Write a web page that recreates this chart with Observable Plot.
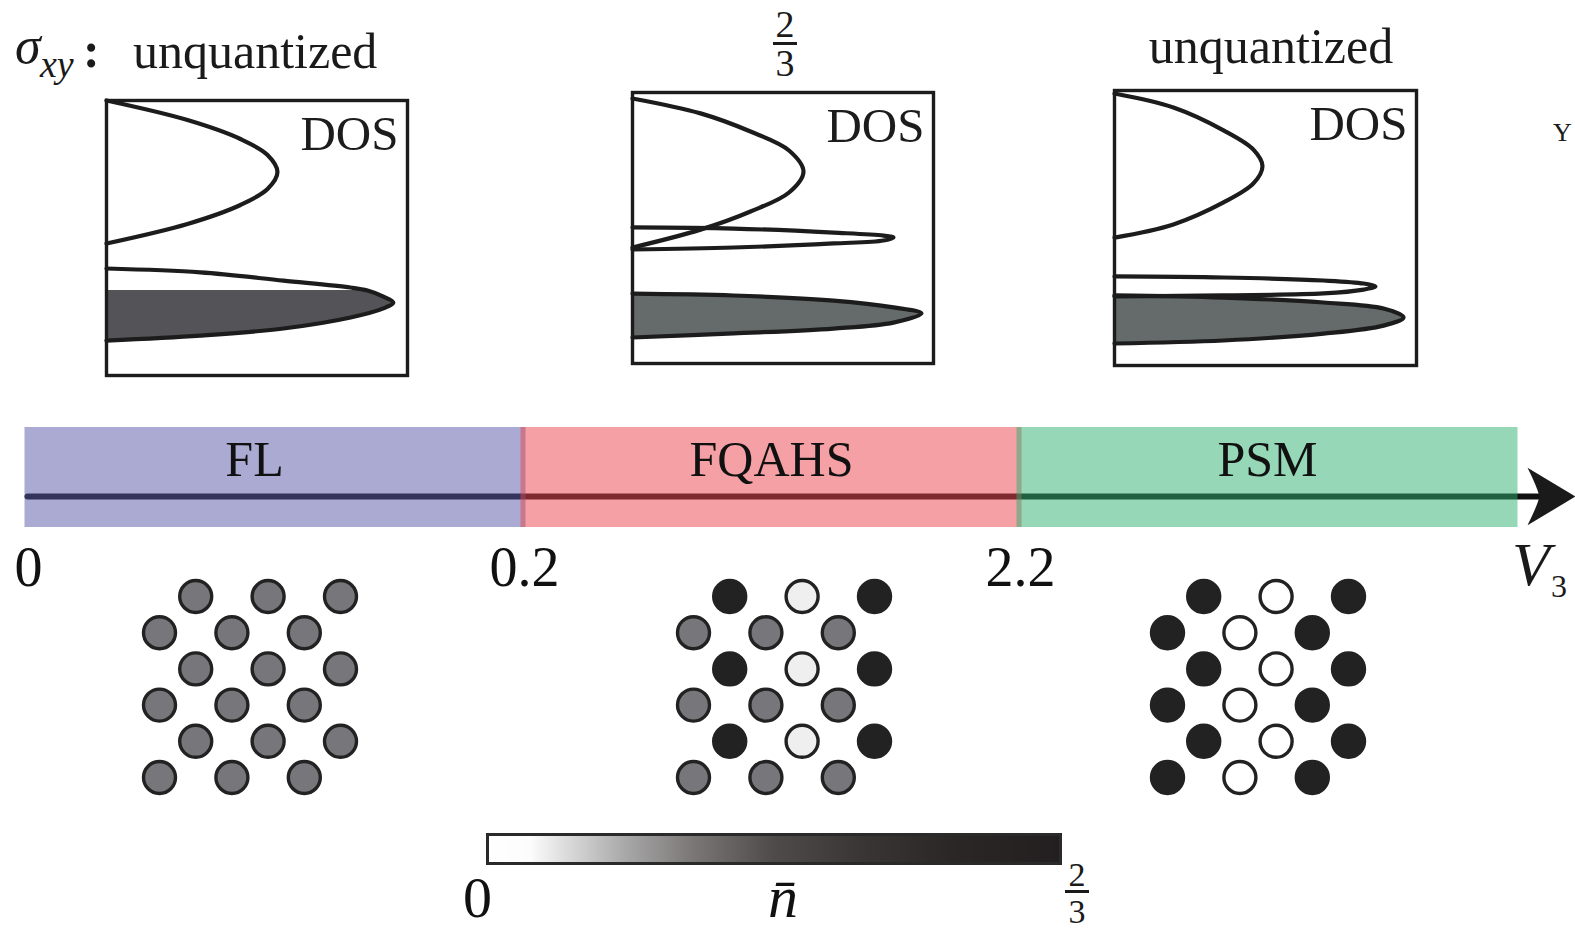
<!DOCTYPE html>
<html>
<head>
<meta charset="utf-8">
<script src="https://cdn.jsdelivr.net/npm/d3@7"></script>
<script src="https://cdn.jsdelivr.net/npm/@observablehq/plot@0.6"></script>
<style>
  html, body { margin: 0; padding: 0; background: #fff; }
  #fig { position: relative; width: 1575px; height: 934px; overflow: hidden; background: #fff;
         font-family: "Liberation Serif", "Times New Roman", serif; color: #1a1a1a; }
  #fig .lbl { position: absolute; white-space: nowrap; line-height: 1; }
  #fig svg { position: absolute; overflow: visible; background: transparent; }
</style>
</head>
<body>
<div id="fig"></div>
<script>
// ---------------- data ----------------
const phases = ["FL", "FQAHS", "PSM"];
const phaseStart = [0, 1, 2];          // schematic position along the V3 axis
const phaseEnd = [1, 2, 3];
const boundaryLabels = ["0", "0.2", "2.2"];
const phaseColors = ["#5555a5", "#e9414b", "#2daf6f"];
const sigmaXY = ["unquantized", "2/3", "unquantized"];

// DOS insets: [energy E (0 = bottom, 1 = top), DOS (0..1)]
const dosFL_upper = [[0.48,0],[0.551,0.269],[0.62,0.445],[0.678,0.535],[0.74,0.568],[0.802,0.535],[0.86,0.445],[0.929,0.269],[1.0,0]];
const dosFL_lower = [[0.127,0],[0.145,0.312],[0.171,0.588],[0.211,0.811],[0.244,0.92],[0.265,0.953],[0.287,0.92],[0.309,0.867],[0.32,0.811],[0.345,0.588],[0.375,0.312],[0.389,0]];
const dosFQ_upper = [[0.428,0],[0.494,0.226],[0.561,0.392],[0.631,0.52],[0.708,0.568],[0.786,0.52],[0.856,0.392],[0.923,0.226],[0.978,0]];
const dosFQ_middle = [[0.421,0],[0.428,0.336],[0.443,0.668],[0.454,0.834],[0.465,0.867],[0.472,0.834],[0.483,0.668],[0.498,0.336],[0.502,0]];
const dosFQ_lower = [[0.096,0],[0.111,0.336],[0.129,0.668],[0.151,0.867],[0.185,0.96],[0.207,0.867],[0.232,0.668],[0.251,0.336],[0.258,0]];
const dosPSM_upper = [[0.465,0],[0.513,0.195],[0.593,0.361],[0.662,0.46],[0.725,0.49],[0.785,0.46],[0.855,0.361],[0.938,0.195],[0.989,0]];
const dosPSM_middle = [[0.251,0],[0.255,0.361],[0.262,0.692],[0.276,0.825],[0.287,0.864],[0.298,0.825],[0.309,0.692],[0.32,0.361],[0.324,0]];
const dosPSM_lower = [[0.08,0],[0.091,0.361],[0.116,0.692],[0.145,0.891],[0.175,0.957],[0.207,0.891],[0.229,0.692],[0.247,0.361],[0.255,0]];
const fermiLevel = [0.309, 0.258, 0.255];
const dosFill = ["#545458", "#656b6a", "#656b6a"];

// site densities n̄ on the triangular lattice (rows top to bottom)
const latticeFL    = [[1/3,1/3,1/3],[1/3,1/3,1/3],[1/3,1/3,1/3],[1/3,1/3,1/3],[1/3,1/3,1/3],[1/3,1/3,1/3]];
const latticeFQAHS = [[2/3,0.02,2/3],[1/3,1/3,1/3],[2/3,0.02,2/3],[1/3,1/3,1/3],[2/3,0.02,2/3],[1/3,1/3,1/3]];
const latticePSM   = [[2/3,0,2/3],[2/3,0,2/3],[2/3,0,2/3],[2/3,0,2/3],[2/3,0,2/3],[2/3,0,2/3]];
const siteN = [0, 0.02, 1/3, 2/3];
const siteColors = ["#ffffff", "#efefef", "#77777b", "#222222"];

// colour bar n̄ ∈ [0, 2/3]
const cbN = [0, 0.05, 0.086, 0.161, 0.237, 0.333, 0.439, 0.54, 2/3];
const cbColors = ["#ffffff", "#fcfcfc", "#e0e0e0", "#a8a8a8", "#7c7878", "#504b4b", "#393535", "#2b2727", "#231f20"];

// ---------------- helpers ----------------
const fig = document.getElementById("fig");
const FONT = "Liberation Serif, Times New Roman, serif";
function put(svg, left, top) {
  svg.style.left = left + "px";
  svg.style.top = top + "px";
  fig.appendChild(svg);
}
function label(html, x, baseline, size, anchor = "start", extra = "") {
  const d = document.createElement("div");
  d.className = "lbl";
  d.innerHTML = html;
  d.style.cssText += `font-size:${size}px;left:${x}px;top:${baseline - 0.8375 * size}px;${extra}`;
  if (anchor === "middle") d.style.transform = "translateX(-50%)";
  fig.appendChild(d);
}
function fraction(text, cx, numBase, barTop, denBase, size, barW) {
  const [num, den] = text.split("/");
  label(num, cx, numBase, size, "middle");
  const bar = document.createElement("div");
  bar.style.cssText = `position:absolute;left:${cx - barW / 2}px;top:${barTop}px;width:${barW}px;height:3px;background:#1a1a1a`;
  fig.appendChild(bar);
  label(den, cx, denBase, size, "middle");
}
const plotStyle = {background: "transparent", overflow: "visible", fontFamily: FONT};

// ---------------- DOS insets ----------------
function dosPlot(bands, EF, fillColor, w, h) {
  const lens = bands[bands.length - 1];
  const filled = lens.filter(p => p[0] <= EF + 1e-9);
  return Plot.plot({
    width: w + 8, height: h + 8, margin: 4,
    x: {domain: [0, 1], axis: null},
    y: {domain: [0, 1], axis: null},
    style: plotStyle,
    marks: [
      Plot.areaX(filled, {x: d => d[1], y: d => d[0], fill: fillColor, curve: "catmull-rom"}),
      ...bands.map(b => Plot.line(b, {x: d => d[1], y: d => d[0], stroke: "#1c1c1c", strokeWidth: 4.2, curve: "catmull-rom"})),
      Plot.frame({stroke: "#1c1c1c", strokeWidth: 3.4}),
      Plot.text(["DOS"], {frameAnchor: "top-right", textAnchor: "end", lineAnchor: "bottom", dx: -9, dy: 49,
        fontSize: 49, fontFamily: FONT, fill: "#1c1c1c"})
    ]
  });
}
put(dosPlot([dosFL_upper, dosFL_lower], fermiLevel[0], dosFill[0], 301, 275), 102, 96);
put(dosPlot([dosFQ_upper, dosFQ_middle, dosFQ_lower], fermiLevel[1], dosFill[1], 301, 271), 628, 88);
put(dosPlot([dosPSM_upper, dosPSM_middle, dosPSM_lower], fermiLevel[2], dosFill[2], 302, 275), 1110, 86);

// ---------------- σxy labels ----------------
label("<i>σ</i>", 15, 64, 52);
label("<i>xy</i>", 40, 77, 38);
label("<b>:</b>", 83, 67, 50);
label(sigmaXY[0], 133, 68, 50);
fraction(sigmaXY[1], 785, 37, 42, 76, 38, 24);
label(sigmaXY[2], 1271, 63, 50, "middle");
label("Y", 1553, 142, 26);

// ---------------- phase bar ----------------
const phaseData = phases.map((name, i) => ({name, x1: phaseStart[i], x2: phaseEnd[i], color: phaseColors[i]}));
const ticks = boundaryLabels.map((t, i) => ({x: phaseStart[i], t}));
const axisY = 0.31, axisTip = 3.121;
const stealth = {
  draw(ctx, size) {
    const r = Math.sqrt(size / Math.PI);
    ctx.moveTo(r, 0);
    ctx.lineTo(-r, -1.2 * r);
    ctx.quadraticCurveTo(-0.6 * r, -0.4 * r, -0.5 * r, 0);
    ctx.quadraticCurveTo(-0.6 * r, 0.4 * r, -r, 1.2 * r);
    ctx.closePath();
  }
};
const phasePlot = Plot.plot({
  width: 1575, height: 190, marginLeft: 27, marginRight: 60, marginTop: 17, marginBottom: 73,
  x: {domain: [0, 3], axis: null},
  y: {domain: [0, 1], axis: null},
  style: plotStyle,
  marks: [
    Plot.line([{x: 0, y: axisY}, {x: 3.06, y: axisY}], {x: "x", y: "y", stroke: "#111", strokeWidth: 6}),
    Plot.rect(phaseData, {x1: "x1", x2: "x2", fill: "color", fillOpacity: 0.5, insetLeft: -2.5, insetRight: -2.5}),
    Plot.dot([{x: axisTip, y: axisY}], {x: "x", y: "y", r: 24, symbol: stealth, fill: "#1a1a1a", stroke: "none", dx: -24}),
    Plot.text(phaseData.filter(d => d.name === "FL"), {x: d => (d.x1 + d.x2) / 2, text: "name", frameAnchor: "top",
      lineAnchor: "bottom", dy: 48, dx: -21, fontSize: 50, fontFamily: FONT, fill: "#111"}),
    Plot.text(phaseData.filter(d => d.name !== "FL"), {x: d => (d.x1 + d.x2) / 2, text: "name", frameAnchor: "top",
      lineAnchor: "bottom", dy: 48, fontSize: 50, fontFamily: FONT, fill: "#111"}),
    Plot.text(ticks, {x: "x", text: "t", frameAnchor: "bottom", lineAnchor: "bottom", dy: 58, dx: 1,
      fontSize: 56, fontFamily: FONT, fill: "#111"})
  ]
});
put(phasePlot, 0, 410);
label("<i>V</i>", 1512, 585, 62);
label("3", 1551, 597, 32);

// ---------------- lattices ----------------
function latticePlot(rows) {
  const sites = rows.flatMap((row, r) => row.map((n, c) => ({x: c + (r % 2 === 0 ? 0.5 : 0), y: r, n})));
  return Plot.plot({
    width: 240, height: 230, marginLeft: 30, marginRight: 29, marginTop: 30, marginBottom: 19,
    x: {domain: [0, 2.5], axis: null},
    y: {domain: [0, 5], reverse: true, axis: null},
    color: {type: "linear", domain: siteN, range: siteColors},
    style: plotStyle,
    marks: [Plot.dot(sites, {x: "x", y: "y", r: 16, fill: "n", stroke: "#222", strokeWidth: 3.4})]
  });
}
put(latticePlot(latticeFL), 129, 566);
put(latticePlot(latticeFQAHS), 663, 566);
put(latticePlot(latticePSM), 1137, 566);

// ---------------- colour bar ----------------
const cbW = 573;
const cbMarks = Plot.raster
  ? [Plot.raster({x1: 0, x2: 2 / 3, y1: 0, y2: 1, width: cbW, height: 1, fill: (x, y) => x, imageRendering: "auto"})]
  : [Plot.rect(d3.range(cbW).map(i => ({a: (i / cbW) * 2 / 3, b: ((i + 1) / cbW) * 2 / 3})),
      {x1: "a", x2: "b", fill: "a", insetRight: -0.5})];
const cbPlot = Plot.plot({
  width: 700, height: 114, marginLeft: 57, marginRight: 70, marginTop: 14, marginBottom: 71,
  x: {domain: [0, 2 / 3], axis: null},
  y: {domain: [0, 1], axis: null},
  color: {type: "linear", domain: cbN, range: cbColors},
  style: plotStyle,
  marks: [
    ...cbMarks,
    Plot.frame({stroke: "#2a2a2a", strokeWidth: 3}),
    Plot.text([{x: 0, t: "0"}], {x: "x", text: "t", frameAnchor: "bottom", lineAnchor: "bottom", dy: 53, dx: -10,
      fontSize: 58, fontFamily: FONT, fill: "#111"}),
    Plot.text([{x: 1 / 3, t: "n\u0304"}], {x: "x", text: "t", frameAnchor: "bottom", lineAnchor: "bottom", dy: 53, dx: 9,
      fontSize: 60, fontStyle: "italic", fontFamily: FONT, fill: "#111"})
  ]
});
put(cbPlot, 430, 820);
fraction("2/3", 1077, 886, 890, 923, 34, 24);
</script>
</body>
</html>
